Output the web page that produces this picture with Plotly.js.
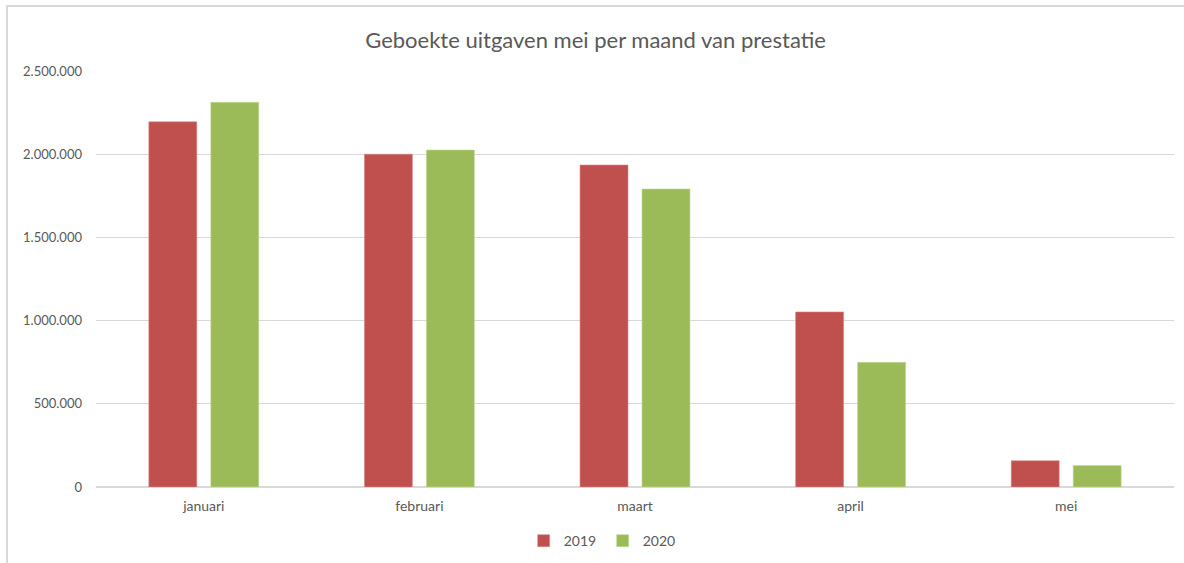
<!DOCTYPE html>
<html>
<head>
<meta charset="utf-8">
<script src="https://cdn.plot.ly/plotly-3.0.1.min.js"></script>
<style>
  html, body { margin: 0; padding: 0; background: #fff; }
  #wrap { position: relative; width: 1184px; height: 563px; overflow: hidden; }
  #frame { position: absolute; left: 6px; top: 5px; width: 1300px; height: 700px;
           border-left: 2px solid #d9d9d9; border-top: 2px solid #d9d9d9; pointer-events: none; }
  #chart { position: absolute; left: 0; top: 0; width: 1184px; height: 563px; }
</style>
</head>
<body>
<div id="wrap">
  <div id="chart"></div>
  <div id="frame"></div>
</div>
<script>
const months = ["januari", "februari", "maart", "april", "mei"];
const values2019 = [2195000, 2000000, 1935000, 1052000, 158000];
const values2020 = [2312000, 2025000, 1791000, 749000, 129000];
const seriesNames = ["2019", "2020"];
const yTicks = [0, 500000, 1000000, 1500000, 2000000, 2500000];

const font = "Lato, 'Open Sans', sans-serif";
const grey = "#595959";

const traces = [
  { type: "bar", name: seriesNames[0], x: months, y: values2019,
    marker: { color: "#C0504D", line: { color: "#d98c8a", width: 0.6 } }, hoverinfo: "x+y" },
  { type: "bar", name: seriesNames[1], x: months, y: values2020,
    marker: { color: "#9BBB59", line: { color: "#c3d89b", width: 0.6 } }, hoverinfo: "x+y" }
];

const layout = {
  width: 1184, height: 563,
  margin: { l: 96, r: 10, t: 71, b: 76, autoexpand: false },
  paper_bgcolor: "#ffffff", plot_bgcolor: "#ffffff",
  separators: ",.",
  font: { family: font, color: grey, size: 13 },
  title: { text: "Geboekte uitgaven mei per maand van prestatie",
           font: { family: font, size: 22, color: grey },
           x: 0.503, xanchor: "center", y: 0.928, yanchor: "middle" },
  barmode: "group",
  bargap: 0.425,
  bargroupgap: 0.226,
  xaxis: {
    type: "category",
    showgrid: false, zeroline: false,
    showline: false, ticks: "",
    tickfont: { family: font, size: 14, color: grey },
    ticklabelstandoff: 9,
    fixedrange: true
  },
  yaxis: {
    range: [0, 2500000],
    tickvals: yTicks,
    tickformat: ",d",
    showgrid: true, gridcolor: "#d9d9d9", gridwidth: 1,
    zeroline: true, zerolinecolor: "#d9d9d9", zerolinewidth: 1.5,
    showline: false, ticks: "",
    tickfont: { family: font, size: 13, color: grey },
    ticklabelstandoff: 13,
    fixedrange: true
  },
  showlegend: true,
  legend: {
    orientation: "h", x: 0.47, xanchor: "center", yref: "container", y: 0.039, yanchor: "middle",
    font: { family: font, size: 14, color: grey },
    itemwidth: 30, entrywidth: 34, entrywidthmode: "pixels",
    itemclick: false, traceorder: "normal"
  }
};

Plotly.newPlot("chart", traces, layout, { displayModeBar: false, staticPlot: true });
</script>
</body>
</html>
